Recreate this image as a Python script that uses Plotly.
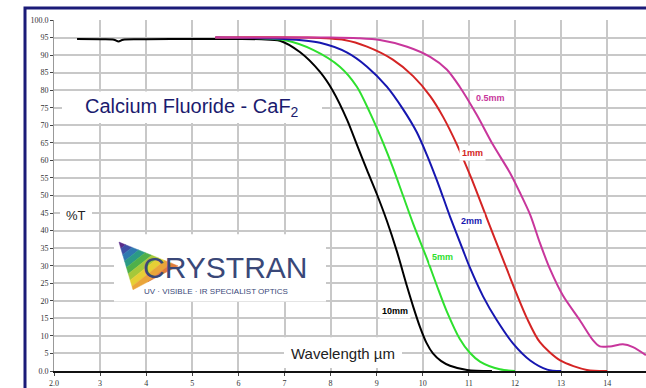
import plotly.graph_objects as go

# ---------------- data ----------------
x_tick_vals = [2, 3, 4, 5, 6, 7, 8, 9, 10, 11, 12, 13, 14]
x_tick_text = ["2.0", "3", "4", "5", "6", "7", "8", "9", "10", "11", "12", "13", "14"]
y_tick_vals = [0, 5, 10, 15, 20, 25, 30, 35, 40, 45, 50, 55, 60, 65, 70, 75, 80, 85, 90, 95, 100]
y_tick_text = ["0.0", "5", "10", "15", "20", "25", "30", "35", "40", "45", "50", "55", "60",
               "65", "70", "75", "80", "85", "90", "95", "100.0"]

x_10mm = [2.5, 3.0, 3.3, 3.4, 3.5, 4.0, 5.0, 6.0, 6.5, 6.9, 7.34, 7.77, 8.05, 8.36, 8.57, 8.79,
          9.0, 9.22, 9.44, 9.66, 9.8, 9.94, 10.08, 10.22, 10.4, 10.59, 10.96, 11.5]
y_10mm = [94.6, 94.5, 94.4, 93.9, 94.4, 94.5, 94.6, 94.6, 94.5, 94.1, 90.8, 85.2, 79.8, 71.5, 64.5,
          57.2, 50.5, 42.8, 34.0, 24.0, 18.0, 12.5, 8.0, 5.0, 2.8, 1.5, 0.3, 0.0]

x_5mm = [5.5, 6.5, 7.0, 7.62, 8.2, 8.57, 8.85, 9.14, 9.35, 9.57, 9.79, 10.09, 10.3, 10.52, 10.8,
         11.02, 11.24, 11.67, 12.0]
y_5mm = [94.9, 94.8, 94.3, 91.5, 86.7, 81.0, 73.7, 65.0, 58.0, 50.0, 42.0, 32.0, 24.5, 17.0, 9.2,
         5.2, 2.7, 0.5, 0.0]

x_2mm = [5.5, 7.0, 7.77, 8.36, 8.79, 9.22, 9.57, 9.87, 10.09, 10.3, 10.44, 10.59, 10.87, 11.02,
         11.31, 11.6, 11.96, 12.33, 12.7, 13.0]
y_2mm = [95.0, 94.6, 93.5, 90.7, 86.7, 81.0, 74.6, 68.0, 61.5, 54.5, 49.5, 44.0, 34.5, 29.5,
         21.2, 14.6, 7.8, 3.0, 0.4, 0.0]

x_1mm = [5.5, 7.5, 8.3, 8.79, 9.35, 9.79, 10.16, 10.44, 10.74, 11.05, 11.39, 11.74, 12.04,
         12.26, 12.54, 12.98, 13.56, 14.0]
y_1mm = [95.0, 95.0, 94.3, 92.4, 88.7, 84.0, 78.3, 72.4, 64.5, 55.0, 43.5, 31.8, 21.8,
         15.0, 8.2, 3.0, 0.3, 0.0]

x_05mm = [5.5, 8.0, 8.6, 9.07, 9.66, 10.16, 10.52, 10.8, 11.17, 11.52, 11.89, 12.1, 12.33,
          12.54, 12.76, 13.04, 13.41, 13.69, 13.84, 14.06, 14.34, 14.56, 14.84]
y_05mm = [95.0, 95.0, 94.8, 94.3, 92.4, 89.5, 85.9, 81.0, 73.0, 64.5, 56.5, 51.0, 44.5, 36.5,
          29.0, 21.5, 14.4, 8.8, 7.0, 7.0, 7.6, 6.8, 4.5]

series_names = ["10mm", "5mm", "2mm", "1mm", "0.5mm"]
series_x = [x_10mm, x_5mm, x_2mm, x_1mm, x_05mm]
series_y = [y_10mm, y_5mm, y_2mm, y_1mm, y_05mm]
series_colors = ["#000000", "#2ee02e", "#1616b0", "#d42424", "#c8369c"]
# label positions (data coords)
label_x = [9.4, 10.42, 11.05, 11.07, 11.46]
label_y = [17.0, 32.5, 42.7, 62.0, 77.7]

# ---------------- geometry helpers (pixels -> paper) ----------------
W, H = 646, 388
L, R, T, B = 54, 0, 20, 14
PW, PH = W - L - R, H - T - B


def px(x):
    return (x - L) / PW


def py(y):
    return (H - B - y) / PH


fig = go.Figure()

for name, xs, ys, c in zip(series_names, series_x, series_y, series_colors):
    fig.add_trace(go.Scatter(x=xs, y=ys, mode="lines", name=name,
                             line=dict(color=c, width=2, shape="spline", smoothing=0.8),
                             hoverinfo="skip", showlegend=False))

shapes = []
annotations = []

# outer navy frame
shapes.append(dict(type="rect", xref="paper", yref="paper",
                   x0=px(25), x1=px(700), y0=py(420), y1=py(8),
                   line=dict(color="#1b1b78", width=3), layer="above"))


# white boxes
def white_box(x0, y0, x1, y1):
    shapes.append(dict(type="rect", xref="paper", yref="paper",
                       x0=px(x0), x1=px(x1), y0=py(y1), y1=py(y0),
                       fillcolor="white", line=dict(width=0), layer="above"))


white_box(62, 92, 322, 124)      # title
white_box(60, 206, 92, 229)      # %T
white_box(284, 340, 402, 371)    # Wavelength
white_box(114, 236, 326, 304)    # logo


# logo triangle with gradient (clipped bands)
def clip(poly, nx, ny, c):
    out = []
    n = len(poly)
    for i in range(n):
        p, q = poly[i], poly[(i + 1) % n]
        dp = nx * p[0] + ny * p[1] - c
        dq = nx * q[0] + ny * q[1] - c
        if dp >= 0:
            out.append(p)
        if (dp >= 0) != (dq >= 0):
            t = dp / (dp - dq)
            out.append((p[0] + t * (q[0] - p[0]), p[1] + t * (q[1] - p[1])))
    return out


tri = [(119, 244), (178, 268), (133, 292)]
grad_colors = ["#5a2b8a", "#3d4fa6", "#2f78b0", "#2b9a86", "#4fb04a", "#a6c83a",
               "#e6cf35", "#eaa53a", "#e07c3a"]
d = (0.62, 0.78)
vals = [d[0] * x + d[1] * y for x, y in tri]
vmin, vmax = min(vals), max(vals)
n = len(grad_colors)
for i, col in enumerate(grad_colors):
    a = vmin + (vmax - vmin) * i / n
    b = vmin + (vmax - vmin) * (i + 1) / n
    poly = clip(tri, d[0], d[1], a)
    poly = clip(poly, -d[0], -d[1], -b)
    if len(poly) < 3:
        continue
    path = "M " + " L ".join(f"{px(x):.5f},{py(y):.5f}" for x, y in poly) + " Z"
    shapes.append(dict(type="path", xref="paper", yref="paper", path=path,
                       fillcolor=col, line=dict(width=0.5, color=col), layer="above"))


def ptext(xc, yc, text, size, color):
    annotations.append(dict(xref="paper", yref="paper", x=px(xc), y=py(yc),
                            xanchor="center", yanchor="middle", text=text, showarrow=False,
                            font=dict(family="Liberation Sans, Arial", size=size, color=color)))


ptext(192, 108, "Calcium Fluoride - CaF<sub>2</sub>", 20, "#1b1b6e")
ptext(76, 217, "%T", 13, "#222222")
ptext(343, 356, "Wavelength µm", 15, "#222222")
ptext(225, 270, "CRYSTRAN", 30, "#3a4878")
ptext(216, 294, "UV · VISIBLE · IR SPECIALIST OPTICS", 8, "#3a4878")

for name, lx, ly, c in zip(series_names, label_x, label_y, series_colors):
    annotations.append(dict(x=lx, y=ly, xref="x", yref="y", text=f"<b>{name}</b>",
                            xanchor="center", yanchor="middle",
                            showarrow=False, bgcolor="white", borderpad=2,
                            font=dict(family="Liberation Sans, Arial", size=9, color=c)))

fig.update_layout(
    width=W, height=H,
    margin=dict(l=L, r=R, t=T, b=B, pad=0),
    paper_bgcolor="white", plot_bgcolor="white",
    shapes=shapes, annotations=annotations,
    xaxis=dict(range=[2, 2 + PW / 46.1], tickvals=x_tick_vals, ticktext=x_tick_text,
               showgrid=True, gridcolor="#c8c8c8", gridwidth=2,
               showline=True, linecolor="#111111", linewidth=2,
               ticks="outside", ticklen=3, tickcolor="#444444",
               tickfont=dict(family="Liberation Serif, Times New Roman", size=8, color="#333333"),
               zeroline=False, fixedrange=True),
    yaxis=dict(range=[0, 100], tickvals=y_tick_vals, ticktext=y_tick_text,
               showgrid=True, gridcolor="#c8c8c8", gridwidth=2,
               showline=True, linecolor="#999999", linewidth=1,
               ticks="outside", ticklen=3, tickcolor="#444444",
               tickfont=dict(family="Liberation Serif, Times New Roman", size=8, color="#333333"),
               zeroline=False, fixedrange=True),
)

fig.write_html("out.html", config={"displayModeBar": False})
